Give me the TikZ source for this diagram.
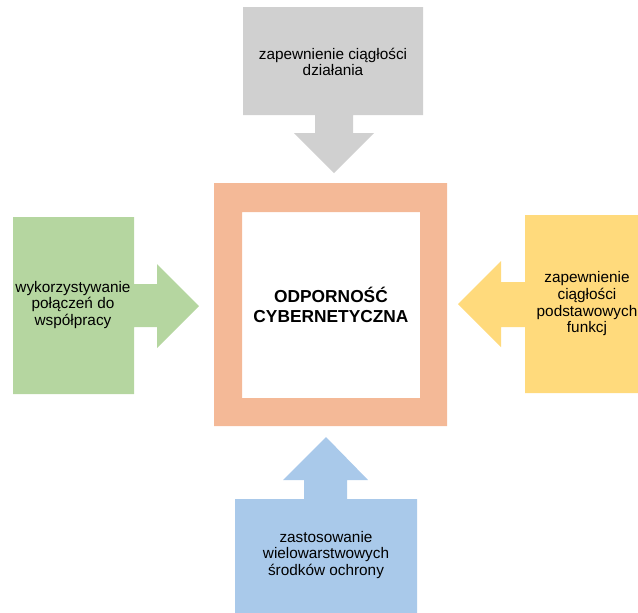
\documentclass[tikz,border=0pt]{standalone}
\usepackage{fontspec}
\setmainfont{Liberation Sans}
\definecolor{cgray}{HTML}{D0D0D0}
\definecolor{cgreen}{HTML}{B5D6A0}
\definecolor{corange}{HTML}{F4B997}
\definecolor{cyellow}{HTML}{FFDA7C}
\definecolor{cblue}{HTML}{A9C9EA}
\begin{document}
\begin{tikzpicture}[x=0.75pt,y=-0.75pt,
  lbl/.style={align=center,inner sep=0pt,font=\fontsize{11.5}{12.5}\selectfont,text=black},
  core/.style={align=center,inner sep=0pt,font=\fontsize{13}{15}\selectfont\bfseries}]
\useasboundingbox (0,0) rectangle (638,612);
\clip (0,0) rectangle (638,612);
% top gray
\fill[cgray] (243,7) -- (423,7) -- (423,115) -- (353,115) -- (353,133) -- (374,133) -- (334,173) -- (294,133) -- (315,133) -- (315,115) -- (243,115) -- cycle;
% left green
\fill[cgreen] (13,217) -- (134,217) -- (134,284) -- (157,284) -- (157,264) -- (199,306) -- (157,348) -- (157,327) -- (134,327) -- (134,394) -- (13,394) -- cycle;
% right yellow
\fill[cyellow] (650,215) -- (525,215) -- (525,282) -- (501,282) -- (501,261) -- (458,304) -- (501,347) -- (501,327) -- (525,327) -- (525,393) -- (650,393) -- cycle;
% bottom blue
\fill[cblue] (235,620) -- (235,499) -- (304,499) -- (304,480) -- (283,480) -- (326,437) -- (368,480) -- (347,480) -- (347,499) -- (417,499) -- (417,620) -- cycle;
% center frame
\fill[corange,even odd rule] (214,183) rectangle (447,426) (242,212) rectangle (420,398);
% texts
\node[core] (c) at (331,305) {ODPORNOŚĆ\\CYBERNETYCZNA};
\node[lbl] (t) at (333,62) {zapewnienie ciągłości\\działania};
\node[lbl] (l) at (73,305) {wykorzystywanie\\połączeń do\\współpracy};
\node[lbl] (r) at (587,304) {zapewnienie\\ciągłości\\podstawowych\\funkcj};
\node[lbl] (b) at (326,555) {zastosowanie\\wielowarstwowych\\środków ochrony};
\end{tikzpicture}
\end{document}
